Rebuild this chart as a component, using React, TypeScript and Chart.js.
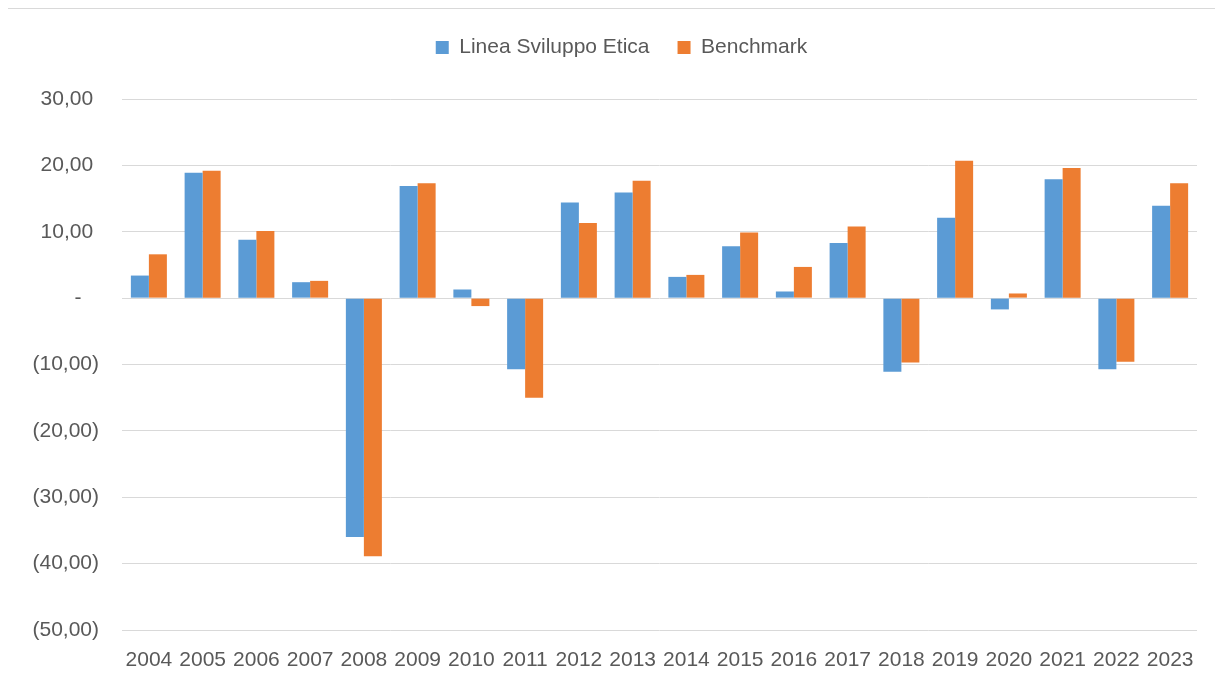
import React, { useEffect, useRef } from "react";
import { Chart, registerables } from "chart.js";

Chart.register(...registerables);

const years = [
  "2004", "2005", "2006", "2007", "2008", "2009", "2010", "2011", "2012", "2013",
  "2014", "2015", "2016", "2017", "2018", "2019", "2020", "2021", "2022", "2023",
];

const lineaSviluppoEtica = [
  3.4, 18.9, 8.8, 2.4, -36.0, 16.9, 1.3, -10.7, 14.4, 15.9,
  3.2, 7.8, 1.0, 8.3, -11.1, 12.1, -1.7, 17.9, -10.7, 13.9,
];

const benchmark = [
  6.6, 19.2, 10.1, 2.6, -38.9, 17.3, -1.2, -15.0, 11.3, 17.7,
  3.5, 9.9, 4.7, 10.8, -9.7, 20.7, 0.7, 19.6, -9.6, 17.3,
];

const seriesNames = ["Linea Sviluppo Etica", "Benchmark"];

const yMin = -50;
const yMax = 30;
const yStep = 10;

const FONT = "'Liberation Sans', Arial, sans-serif";
const TEXT = "#595959";
const GRID = "#D9D9D9";

function formatTick(v: number): string {
  const r = Math.round(v * 100) / 100;
  if (r === 0) return "-   ";
  const s = Math.abs(r).toFixed(2).replace(".", ",");
  return r < 0 ? "(" + s + ")" : s + " ";
}

export default function App() {
  const ref = useRef<HTMLCanvasElement | null>(null);

  useEffect(() => {
    document.documentElement.style.overflow = "hidden";
    document.body.style.overflow = "hidden";
    if (!ref.current) return;
    const chart = new Chart(ref.current, {
      type: "bar",
      data: {
        labels: years,
        datasets: [
          {
            label: seriesNames[0],
            data: lineaSviluppoEtica,
            backgroundColor: "#5B9BD5",
            borderWidth: 0,
          },
          {
            label: seriesNames[1],
            data: benchmark,
            backgroundColor: "#ED7D31",
            borderWidth: 0,
          },
        ],
      },
      options: {
        responsive: false,
        animation: false,
        devicePixelRatio: 1,
        layout: { padding: { top: 0, left: 0, right: 0, bottom: 0 } },
        datasets: {
          bar: { categoryPercentage: 0.67, barPercentage: 1.0 },
        },
        plugins: {
          tooltip: { enabled: false },
          legend: {
            display: true,
            position: "top",
            labels: {
              boxWidth: 13,
              boxHeight: 13,
              padding: 28,
              color: TEXT,
              font: { family: FONT, size: 21 },
            },
          },
          title: {
            display: true,
            text: "",
            weight: 500,
            padding: { top: 21, bottom: 0 },
            font: { size: 10, lineHeight: 1 },
          } as any,
        },
        scales: {
          x: {
            grid: { display: false, drawTicks: false },
            border: { display: false },
            ticks: {
              color: TEXT,
              font: { family: FONT, size: 21 },
              padding: 18,
              autoSkip: false,
              maxRotation: 0,
              minRotation: 0,
            },
            afterFit: (scale: any) => {
              scale.height = 69;
            },
          },
          y: {
            min: yMin,
            max: yMax,
            grid: { color: GRID, lineWidth: 1, drawTicks: false },
            border: { display: false },
            ticks: {
              stepSize: yStep,
              color: TEXT,
              font: { family: FONT, size: 21 },
              padding: 23,
              callback: (v: any) => formatTick(Number(v)),
            },
            afterFit: (scale: any) => {
              scale.width = 114;
            },
          },
          spacerRight: {
            type: "linear",
            position: "right",
            display: true,
            grid: { display: false, drawTicks: false },
            border: { display: false },
            ticks: { display: false },
            afterFit: (scale: any) => {
              scale.width = 38;
            },
          },
        },
      },
    });
    return () => chart.destroy();
  }, []);

  return (
    <div
      style={{
        marginLeft: -1,
        width: 1216,
        height: 670,
        overflow: "hidden",
        borderLeft: "1px solid #D9D9D9",
        borderTop: "1px solid #D9D9D9",
        background: "#fff",
      }}
    >
      <canvas ref={ref} width={1227} height={690} style={{ display: "block" }} />
    </div>
  );
}
